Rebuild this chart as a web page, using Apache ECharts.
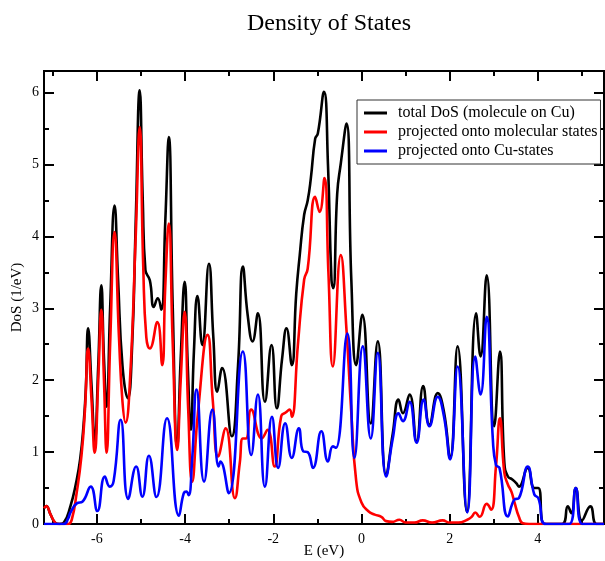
<!DOCTYPE html>
<html>
<head>
<meta charset="utf-8">
<script src="https://cdn.jsdelivr.net/npm/echarts@6/dist/echarts.min.js"></script>
<style>
  html, body { margin: 0; padding: 0; background: #fff; }
  #chart { width: 605px; height: 561px; }
</style>
</head>
<body>
<div id="chart"></div>
<script>
// Energy window (eV) and DoS range (1/eV)
const E_MIN = -7.2, E_MAX = 5.5;
const DOS_MIN = 0, DOS_MAX = 6.3;

// Tick positions
const xMajorTicks = [-6, -4, -2, 0, 2, 4];
const xMinorTicks = [-7, -5, -3, -1, 1, 3, 5];
const yMajorTicks = [0, 1, 2, 3, 4, 5, 6];
const yMinorTicks = [0.5, 1.5, 2.5, 3.5, 4.5, 5.5];

const seriesNames = [
  'total DoS (molecule on Cu)',
  'projected onto molecular states',
  'projected onto Cu-states'
];

// [E (eV), DoS (1/eV)] : total density of states
const totalDos = [
  [-7.2, 0.22], [-7.15, 0.25], [-7.05, 0.13], [-6.95, 0.02], [-6.85, 0], [-6.75, 0.02],
  [-6.6, 0.25], [-6.48, 0.55], [-6.38, 0.9], [-6.3, 1.4], [-6.25, 1.9], [-6.2, 2.72],
  [-6.12, 1.9], [-6.05, 1.15], [-5.97, 2.2], [-5.9, 3.32], [-5.84, 2.3], [-5.78, 1.63],
  [-5.7, 3.0], [-5.6, 4.43], [-5.52, 3.4], [-5.42, 2.2], [-5.3, 1.75], [-5.2, 2.5],
  [-5.12, 4.2], [-5.03, 6.03], [-4.96, 4.5], [-4.9, 3.53], [-4.8, 3.39], [-4.71, 3.02],
  [-4.62, 3.14], [-4.54, 2.98], [-4.45, 4.2], [-4.37, 5.38], [-4.28, 3.0], [-4.18, 1.08],
  [-4.1, 2.3], [-4.01, 3.37], [-3.94, 2.2], [-3.87, 1.31], [-3.8, 2.4], [-3.72, 3.17],
  [-3.61, 2.49], [-3.46, 3.62], [-3.36, 2.6], [-3.27, 1.84], [-3.16, 2.17], [-2.94, 1.22],
  [-2.8, 2.2], [-2.69, 3.58], [-2.58, 2.9], [-2.47, 2.54], [-2.35, 2.93], [-2.19, 1.7],
  [-2.04, 2.49], [-1.92, 1.61], [-1.8, 2.3], [-1.7, 2.72], [-1.58, 2.21], [-1.48, 3.2],
  [-1.4, 3.74], [-1.3, 4.3], [-1.22, 4.5], [-1.15, 4.8], [-1.05, 5.36], [-0.99, 5.43],
  [-0.85, 6.01], [-0.76, 5.0], [-0.68, 3.39], [-0.64, 3.28], [-0.55, 4.6], [-0.47, 5.01],
  [-0.34, 5.57], [-0.23, 3.39], [-0.12, 2.21], [0.02, 2.91], [0.21, 1.4], [0.37, 2.54],
  [0.56, 0.68], [0.71, 1.26], [0.84, 1.73], [0.94, 1.54], [1.09, 1.8], [1.25, 1.15],
  [1.4, 1.92], [1.54, 1.38], [1.73, 1.82], [1.87, 1.56], [2.01, 0.92], [2.18, 2.47],
  [2.39, 0.17], [2.6, 2.93], [2.7, 2.33], [2.84, 3.46], [3.01, 1.36], [3.14, 2.4],
  [3.24, 0.85], [3.32, 0.66], [3.42, 0.62], [3.51, 0.57], [3.57, 0.52], [3.77, 0.78],
  [3.92, 0.5], [4.01, 0.5], [4.15, 0], [4.55, 0], [4.68, 0.245], [4.76, 0.15],
  [4.86, 0.5], [5.0, 0.05], [5.19, 0.245], [5.33, 0], [5.5, 0]
];

// [E (eV), DoS (1/eV)] : projection onto molecular states
const molecularDos = [
  [-7.2, 0.22], [-7.15, 0.25], [-7.05, 0.13], [-6.95, 0.02], [-6.9, 0], [-6.65, 0],
  [-6.57, 0.06], [-6.46, 0.43], [-6.35, 0.95], [-6.27, 1.6], [-6.2, 2.44], [-6.12, 1.7],
  [-6.05, 0.99], [-5.97, 2.0], [-5.9, 2.98], [-5.84, 2.0], [-5.78, 0.99], [-5.7, 2.5],
  [-5.6, 4.06], [-5.5, 2.6], [-5.42, 1.7], [-5.35, 1.41], [-5.25, 2.0], [-5.12, 4.0],
  [-5.03, 5.52], [-4.95, 3.6], [-4.88, 2.6], [-4.8, 2.44], [-4.63, 2.81], [-4.52, 2.21],
  [-4.45, 3.3], [-4.37, 4.18], [-4.28, 2.5], [-4.18, 1.03], [-4.1, 2.0], [-4.01, 2.95],
  [-3.93, 1.6], [-3.84, 0.59], [-3.71, 1.54], [-3.49, 2.63], [-3.37, 1.7], [-3.25, 0.94],
  [-3.08, 1.33], [-2.87, 0.36], [-2.76, 0.85], [-2.69, 1.19], [-2.62, 1.19], [-2.5, 1.59],
  [-2.26, 1.19], [-2.13, 1.31], [-1.97, 0.8], [-1.82, 1.5], [-1.72, 1.55], [-1.63, 1.59],
  [-1.58, 1.49], [-1.44, 2.51], [-1.3, 3.4], [-1.22, 3.55], [-1.05, 4.55], [-0.95, 4.34],
  [-0.84, 4.81], [-0.75, 3.5], [-0.65, 2.19], [-0.47, 3.74], [-0.34, 2.7], [-0.23, 1.54],
  [-0.12, 0.6], [0.0, 0.3], [0.15, 0.18], [0.3, 0.13], [0.45, 0.1], [0.56, 0.04],
  [0.7, 0.03], [0.86, 0.06], [1.0, 0.02], [1.2, 0.02], [1.39, 0.05], [1.6, 0.02],
  [1.84, 0.05], [2.0, 0.02], [2.2, 0.02], [2.4, 0.06], [2.5, 0.1], [2.58, 0.16],
  [2.68, 0.1], [2.84, 0.28], [2.94, 0.2], [3.05, 0.8], [3.14, 1.47], [3.24, 0.71],
  [3.32, 0.55], [3.4, 0.45], [3.47, 0.3], [3.57, 0.1], [3.66, 0.01], [3.8, 0], [5.5, 0]
];

// [E (eV), DoS (1/eV)] : projection onto Cu states
const copperDos = [
  [-7.2, 0], [-6.75, 0], [-6.65, 0.08], [-6.6, 0.16], [-6.45, 0.29], [-6.33, 0.31],
  [-6.14, 0.52], [-5.99, 0.18], [-5.82, 0.66], [-5.71, 0.52], [-5.62, 0.6], [-5.46, 1.45],
  [-5.29, 0.35], [-5.11, 0.8], [-4.97, 0.38], [-4.82, 0.95], [-4.65, 0.375], [-4.41, 1.47],
  [-4.14, 0.115], [-4.03, 0.43], [-3.97, 0.45], [-3.92, 0.4], [-3.84, 0.9], [-3.74, 1.87],
  [-3.57, 0.59], [-3.38, 1.59], [-3.24, 0.8], [-3.2, 0.87], [-3.01, 0.43], [-2.69, 2.4],
  [-2.5, 0.96], [-2.35, 1.8], [-2.19, 0.52], [-2.03, 1.49], [-1.89, 0.78], [-1.73, 1.4],
  [-1.58, 0.92], [-1.42, 1.33], [-1.32, 1.01], [-1.22, 1.0], [-1.1, 0.78], [-0.91, 1.29],
  [-0.76, 0.87], [-0.65, 1.08], [-0.58, 1.06], [-0.32, 2.65], [-0.16, 0.92], [0.03, 2.47],
  [0.21, 1.19], [0.37, 2.38], [0.56, 0.66], [0.71, 1.19], [0.84, 1.54], [0.94, 1.43],
  [1.09, 1.7], [1.25, 1.13], [1.41, 1.73], [1.54, 1.36], [1.73, 1.77], [1.87, 1.5],
  [2.01, 0.9], [2.18, 2.19], [2.4, 0.16], [2.58, 2.33], [2.7, 1.8], [2.84, 2.88],
  [2.98, 1.17], [3.05, 0.82], [3.13, 0.78], [3.32, 0.105], [3.47, 0.34], [3.57, 0.36],
  [3.77, 0.8], [3.92, 0.41], [4.01, 0.36], [4.19, 0], [4.71, 0], [4.86, 0.5],
  [5.01, 0], [5.5, 0]
];

const FONT = "'Liberation Serif', 'Times New Roman', 'DejaVu Serif', serif";
const INK = '#000';

function frameAxis(extra) {
  return Object.assign({
    type: 'value',
    splitLine: { show: false },
    axisLine: { show: true, onZero: false, lineStyle: { color: INK, width: 2 } },
    axisLabel: { show: false },
    axisTick: { show: true, inside: true }
  }, extra);
}

function ticks(values, len) {
  return { show: true, inside: true, length: len, customValues: values,
           lineStyle: { color: INK, width: 2 } };
}

const labelStyle = { color: INK, fontFamily: FONT, fontSize: 14 };
const nameStyle = { color: INK, fontFamily: FONT, fontSize: 15 };

const chart = echarts.init(document.getElementById('chart'), null, { renderer: 'canvas' });

chart.setOption({
  backgroundColor: '#fff',
  animation: false,
  title: {
    text: 'Density of States',
    left: 247,
    top: 12,
    padding: 0,
    textStyle: { color: INK, fontFamily: FONT, fontSize: 24, fontWeight: 'normal' }
  },
  legend: {
    left: 357,
    top: 100,
    orient: 'vertical',
    data: seriesNames,
    icon: 'rect',
    itemWidth: 23,
    itemHeight: 3,
    itemGap: 3,
    padding: [5, 3, 5, 7],
    borderColor: '#333',
    borderWidth: 1,
    backgroundColor: '#fff',
    textStyle: { color: INK, fontFamily: FONT, fontSize: 16, lineHeight: 16, padding: [0, 0, 0, 6] }
  },
  grid: { left: 44, right: 1, top: 71, bottom: 37, outerBoundsMode: 'none', containLabel: false },
  xAxis: [
    frameAxis({
      min: E_MIN, max: E_MAX, position: 'bottom',
      axisTick: ticks(xMajorTicks, 10),
      axisLabel: Object.assign({ show: true, customValues: xMajorTicks, margin: 8 }, labelStyle),
      name: 'E (eV)', nameLocation: 'middle', nameGap: 20, nameMoveOverlap: false,
      nameTextStyle: nameStyle
    }),
    frameAxis({ min: E_MIN, max: E_MAX, position: 'bottom', axisTick: ticks(xMinorTicks, 5) }),
    frameAxis({ min: E_MIN, max: E_MAX, position: 'top', axisTick: ticks(xMajorTicks, 10) }),
    frameAxis({ min: E_MIN, max: E_MAX, position: 'top', axisTick: ticks(xMinorTicks, 5) })
  ],
  yAxis: [
    frameAxis({
      min: DOS_MIN, max: DOS_MAX, position: 'left',
      axisTick: ticks(yMajorTicks, 10),
      axisLabel: Object.assign({ show: true, customValues: yMajorTicks, margin: 5 }, labelStyle),
      name: 'DoS (1/eV)', nameLocation: 'middle', nameGap: 19, nameMoveOverlap: false,
      nameTextStyle: nameStyle
    }),
    frameAxis({ min: DOS_MIN, max: DOS_MAX, position: 'left', axisTick: ticks(yMinorTicks, 5) }),
    frameAxis({ min: DOS_MIN, max: DOS_MAX, position: 'right', axisTick: ticks(yMajorTicks, 10) }),
    frameAxis({ min: DOS_MIN, max: DOS_MAX, position: 'right', axisTick: ticks(yMinorTicks, 5) })
  ],
  series: [
    { name: seriesNames[0], data: totalDos, color: '#000000' },
    { name: seriesNames[1], data: molecularDos, color: '#ff0000' },
    { name: seriesNames[2], data: copperDos, color: '#0000ff' }
  ].map(s => ({
    type: 'line',
    name: s.name,
    data: s.data,
    xAxisIndex: 0,
    yAxisIndex: 0,
    smooth: 0.5,
    showSymbol: false,
    symbol: 'none',
    clip: true,
    itemStyle: { color: s.color },
    lineStyle: { color: s.color, width: 2.6 }
  }))
});
</script>
</body>
</html>
